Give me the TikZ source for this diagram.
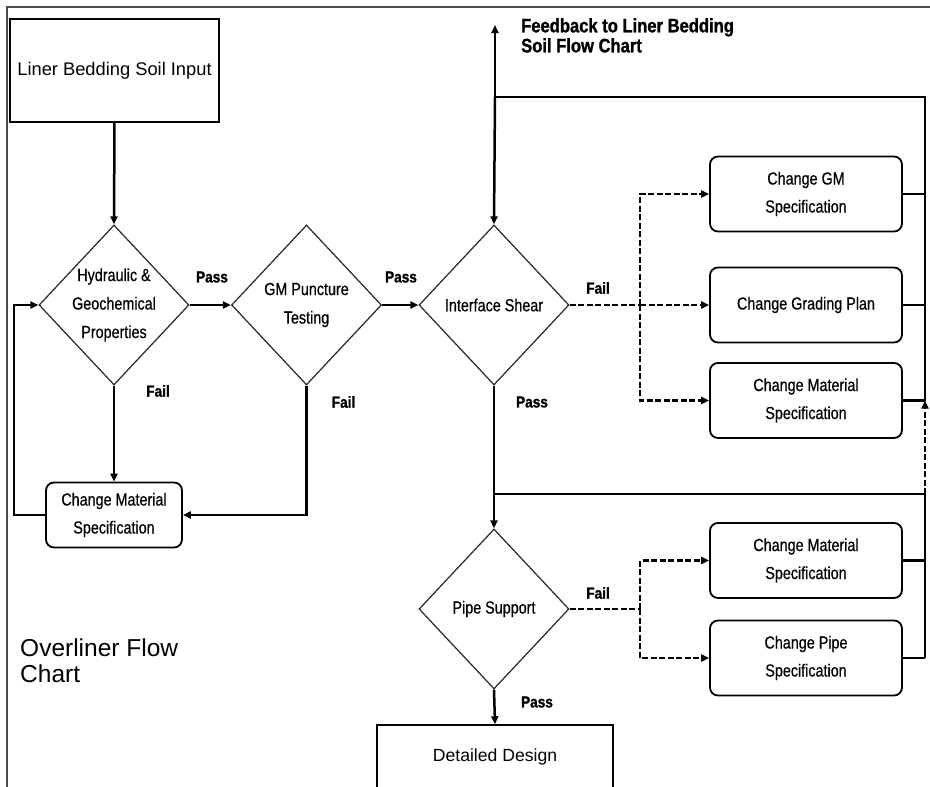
\documentclass[tikz,border=0pt]{standalone}
\usepackage{fontspec}
\setmainfont{Liberation Sans}
\newfontfamily\narrowfont[FakeStretch=0.82,FakeBold=0.5]{Liberation Sans}
\newfontfamily\lblfont[FakeStretch=0.85,FakeBold=1.2]{Liberation Sans}
\usetikzlibrary{shapes.geometric,arrows.meta}
\tikzset{
  dia/.style={draw=black!85, line width=1.2pt, diamond, shape aspect=0.9375,
    minimum width=150pt, minimum height=160pt, inner sep=-4pt, align=center,
    font=\narrowfont\fontsize{17.5}{28.5}\selectfont},
  rbox/.style={draw, line width=1.8pt, rounded corners=8pt, minimum width=192pt,
    minimum height=75pt, align=center, font=\narrowfont\fontsize{17.5}{28}\selectfont},
  plainbox/.style={draw, line width=1.5pt},
  lbl/.style={font=\lblfont\bfseries\fontsize{16}{18}\selectfont, inner sep=0pt},
  conn/.style={line width=2.5pt},
  arr/.style={conn, -{Triangle[length=8pt,width=7pt]}},
  dsh/.style={conn, dash pattern=on 6pt off 2.5pt},
  darr/.style={dsh, -{Triangle[length=8pt,width=7pt]}}
}
\begin{document}
\begin{tikzpicture}[x=1pt,y=-1pt]
\clip (0,0) rectangle (930,787);
\fill[white] (0,0) rectangle (930,787);
% frame
\draw[black!70, line width=1.3pt] (7,790) -- (7,7) -- (932,7);

% nodes
\node[plainbox, minimum width=209pt, minimum height=103pt,
      font=\fontsize{18.3}{22}\selectfont] (lbs) at (114.5,70.5) {Liner Bedding Soil Input};
\node[dia] (d1) at (114,305) {Hydraulic \&\\Geochemical\\Properties};
\node[dia] (d2) at (306.5,305) {GM Puncture\\Testing};
\node[dia] (d3) at (494,305) {Interface Shear};
\node[dia] (d4) at (494,609) {Pipe Support};
\node[rbox, minimum width=136pt, minimum height=65pt] (cm1) at (114,515) {Change Material\\Specification};
\node[rbox] (gm) at (806,194) {Change GM\\Specification};
\node[rbox] (grd) at (806,305) {Change Grading Plan};
\node[rbox] (cm2) at (806,400.5) {Change Material\\Specification};
\node[rbox] (cm3) at (806,560.5) {Change Material\\Specification};
\node[rbox] (pipe) at (806,658) {Change Pipe\\Specification};
\node[plainbox, minimum width=236pt, minimum height=64pt,
      font=\fontsize{17.6}{20}\selectfont] (dd) at (495,757) {Detailed Design};

% labels
\node[lbl] (p1) at (212,277) {Pass};
\node[lbl] (p2) at (401,277) {Pass};
\node[lbl] (f1) at (158,391) {Fail};
\node[lbl] (f2) at (343.5,402) {Fail};
\node[lbl] (f3) at (598,288) {Fail};
\node[lbl] (p3) at (532,402) {Pass};
\node[lbl] (f4) at (598,593) {Fail};
\node[lbl] (p4) at (537,702) {Pass};
\node[anchor=north west, inner sep=0pt, align=left,
      font=\lblfont\bfseries\fontsize{19.5}{20}\selectfont] (fb) at (521,18)
      {Feedback to Liner Bedding\\Soil Flow Chart};
\node[anchor=north west, inner sep=0pt, align=left,
      font=\fontsize{24.5}{26}\selectfont] (title) at (20,639) {Overliner Flow\\Chart};

% coordinates
\coordinate (lp) at (14,515);
\coordinate (fbtop) at (495,25);
\coordinate (j1) at (495,97);
\coordinate (rt) at (925,97);
\coordinate (j2) at (495,494);
\coordinate (rb) at (925,494);
\coordinate (b1) at (640,305);
\coordinate (b2) at (640,609);

% left part
\draw[arr] (lbs.south) -- (d1.north);
\draw[arr] (d1.east) -- (d2.west);
\draw[arr] (d2.east) -- (d3.west);
\draw[arr] (d1.south) -- (cm1.north);
\draw[arr] (d2.south) |- (cm1.east);
\draw[arr] (cm1.west) -- (lp) |- (d1.west);

% feedback and loops
\draw[arr] (j1) -- (fbtop);
\draw[arr] (j1) -- (d3.north);
\draw[conn] (j1) -- (rt) -- (rt |- cm2.east);
\draw[conn] (gm.east) -- (gm.east -| rt);
\draw[conn] (grd.east) -- (grd.east -| rt);
\draw[conn] (cm2.east) -- (cm2.east -| rt);
\draw[arr] (d3.south) -- (d4.north);
\draw[conn] (j2) -- (rb) -- (rb |- pipe.east);
\draw[conn] (cm3.east) -- (cm3.east -| rb);
\draw[conn] (pipe.east) -- (pipe.east -| rb);
\draw[darr] (rb) -- (rb |- cm2.east);
\draw[arr] (d4.south) -- (dd.north);

% dashed fail branches
\draw[dsh] (d3.east) -- (b1);
\draw[darr] (b1) |- (gm.west);
\draw[darr] (b1) -- (grd.west);
\draw[darr] (b1) |- (cm2.west);
\draw[dsh] (d4.east) -- (b2);
\draw[darr] (b2) |- (cm3.west);
\draw[darr] (b2) |- (pipe.west);
\end{tikzpicture}
\end{document}
